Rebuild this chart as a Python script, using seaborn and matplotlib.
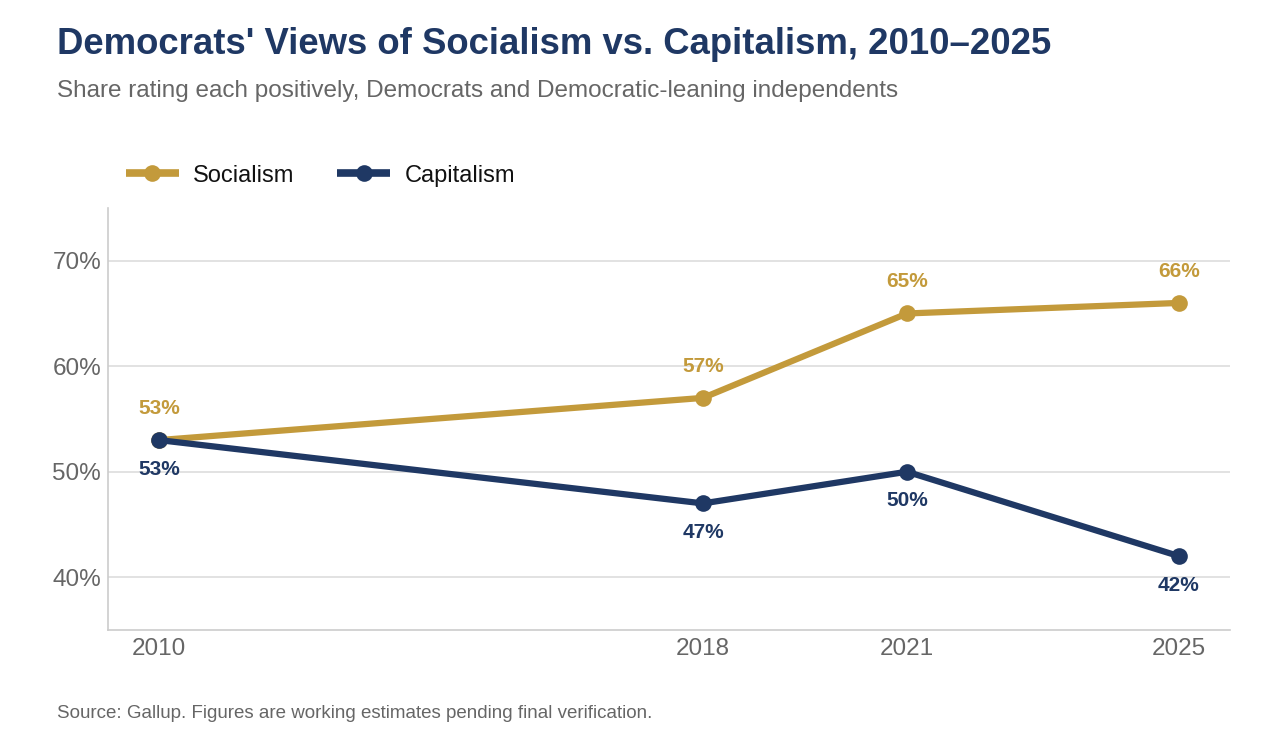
import pandas as pd
import matplotlib.pyplot as plt
import seaborn as sns

# Datos
years = [2010, 2018, 2021, 2025]
socialism = [53, 57, 65, 66]
capitalism = [53, 47, 50, 42]
series_names = ["Socialism", "Capitalism"]
y_ticks = [40, 50, 60, 70]

GOLD = "#C39A3B"
NAVY = "#1F3864"
GRAY = "#666666"

df = pd.DataFrame({"Year": years * 2,
                   "Value": socialism + capitalism,
                   "Series": [series_names[0]] * len(years) + [series_names[1]] * len(years)})

sns.set_style("white")
plt.rcParams['font.family'] = ['Liberation Sans', 'DejaVu Sans']

fig = plt.figure(figsize=(12.75, 7.5), dpi=100)
ax = fig.add_axes([0.0847, 0.16, 0.88, 0.5627])

sns.lineplot(data=df, x="Year", y="Value", hue="Series", hue_order=series_names,
             palette=[GOLD, NAVY], linewidth=4.5, marker="o", markersize=12,
             markeredgewidth=0, ax=ax)

ax.set_xlim(2009.25, 2025.75)
ax.set_ylim(35, 75)
ax.set_xticks(years)
ax.set_yticks(y_ticks)
ax.set_yticklabels([f"{v}%" for v in y_ticks])
ax.tick_params(axis="both", length=0, labelsize=17.5, labelcolor=GRAY)
ax.tick_params(axis="x", pad=6)
ax.tick_params(axis="y", pad=5)
ax.set_xlabel("")
ax.set_ylabel("")
ax.grid(axis="y", color="#DDDDDD", linewidth=1.2)
ax.set_axisbelow(True)
for s in ["top", "right"]:
    ax.spines[s].set_visible(False)
for s in ["left", "bottom"]:
    ax.spines[s].set_color("#CCCCCC")
    ax.spines[s].set_linewidth(1.2)

# Etiquetas de valores
for x, v in zip(years, socialism):
    ax.annotate(f"{v}%", (x, v), xytext=(0, 16), textcoords="offset points",
                ha="center", va="bottom", fontsize=15, fontweight="bold", color=GOLD)
for x, v in zip(years, capitalism):
    ax.annotate(f"{v}%", (x, v), xytext=(0, -14), textcoords="offset points",
                ha="center", va="top", fontsize=15, fontweight="bold", color=NAVY)

leg = ax.legend(loc="lower left", bbox_to_anchor=(-0.003, 1.0), ncol=2, frameon=False,
                fontsize=17, handlelength=2.25, columnspacing=1.8, handletextpad=0.6,
                labelcolor="#111111")
for line in leg.get_lines():
    line.set_linewidth(5.5)
    line.set_solid_capstyle("butt")

fig.text(0.045, 0.941, "Democrats' Views of Socialism vs. Capitalism, 2010\u20132025",
         fontsize=26.3, fontweight="bold", color=NAVY, va="center")
fig.text(0.045, 0.879, "Share rating each positively, Democrats and Democratic-leaning independents",
         fontsize=17.5, color=GRAY, va="center")
fig.text(0.045, 0.049, "Source: Gallup. Figures are working estimates pending final verification.",
         fontsize=13.5, color=GRAY, va="center")

fig.savefig("out.png", dpi=100)
